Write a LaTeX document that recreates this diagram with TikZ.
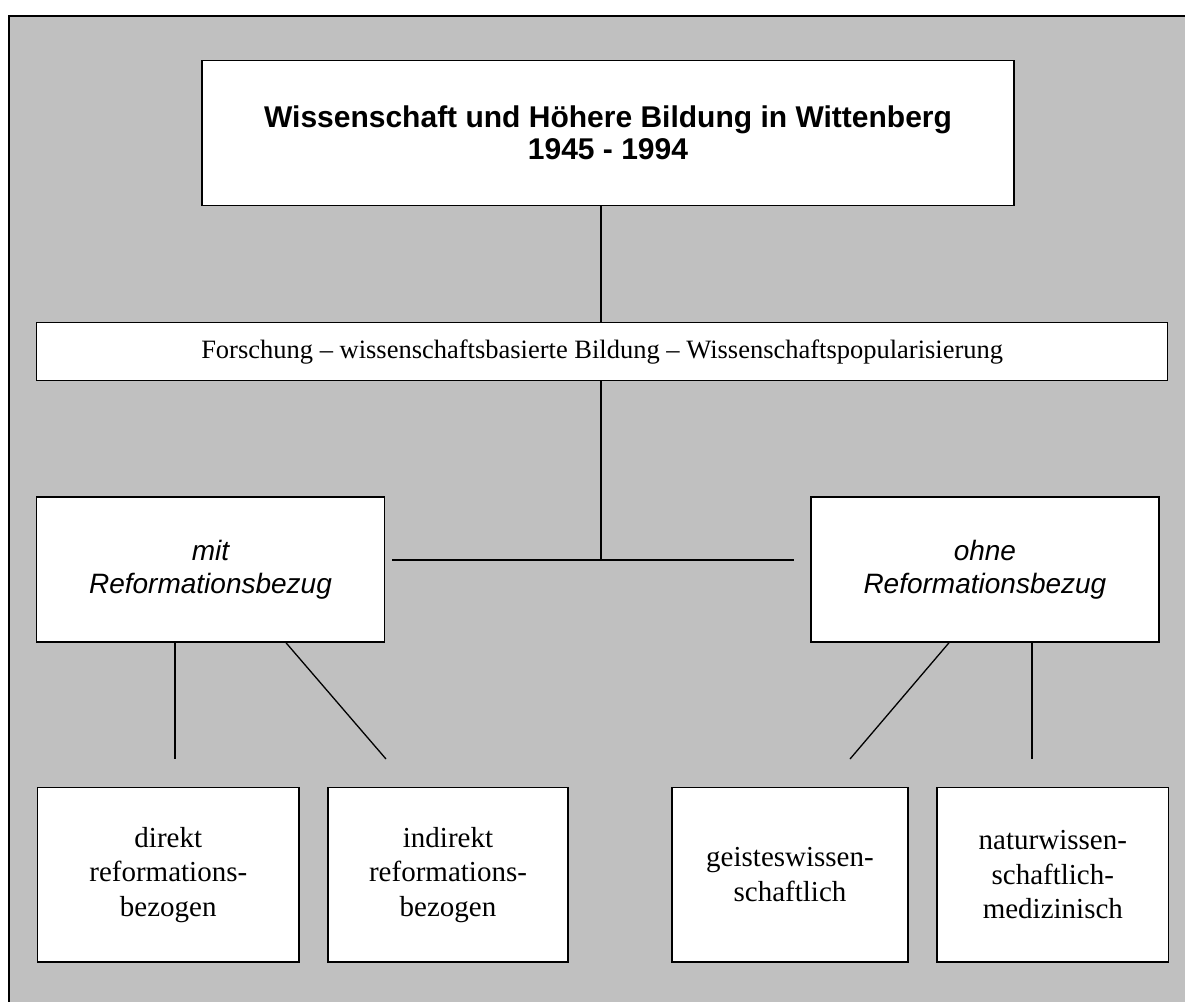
\documentclass[tikz,border=0pt]{standalone}
\usepackage{fontspec}
\setmainfont{Liberation Serif}
\setsansfont{Liberation Sans}
\definecolor{bggray}{RGB}{192,192,192}

\begin{document}
\begin{tikzpicture}[x=1pt,y=-1pt,
		box/.style={draw=black,fill=white,line width=1.5pt,inner sep=0pt,align=center},
		leaf/.style={box,minimum height=174.5,font=\fontsize{29}{34.5}\selectfont},
		branch/.style={box,minimum height=145,font=\sffamily\itshape\fontsize{28}{33}\selectfont},
		conn/.style={black,line width=1.3pt}]
		\clip (0,0) rectangle (1185,1001);
		\draw [fill=bggray,line width=2pt] (8.5,15.5) rectangle (1300,1100);
		% boxes
		\node [box,minimum width=812,minimum height=145,font=\sffamily\bfseries\fontsize{30}{32}\selectfont] (title) at (608,133.2) {Wissenschaft und Höhere Bildung in Wittenberg\\1945 - 1994};
		\node [box,minimum width=1131,minimum height=58,font=\fontsize{26.5}{30}\selectfont] (forschung) at (602.2,351.7) {Forschung -- wissenschaftsbasierte Bildung -- Wissenschaftspopularisierung};
		\node [branch,minimum width=347.6] (mit) at (210.5,569.5) {mit\\Reformationsbezug};
		\node [branch,minimum width=348.3] (ohne) at (984.9,569.5) {ohne\\Reformationsbezug};
		\node [leaf,minimum width=261.3] (direkt) at (168.3,874.7) {direkt\\reformations-\\bezogen};
		\node [leaf,minimum width=240] (indirekt) at (448,874.7) {indirekt\\reformations-\\bezogen};
		\node [leaf,minimum width=236] (geistes) at (790,874.7) {geisteswissen-\\schaftlich};
		\node [leaf,minimum width=231.7] (natur) at (1052.8,874.7) {naturwissen-\\schaftlich-\\medizinisch};
		% connectors
		\coordinate (hub) at (601,560);
		\coordinate (barL) at (392,560);
		\coordinate (barR) at (794,560);
		\draw [conn] (title.south -| hub) -- (forschung.north -| hub);
		\draw [conn] (forschung.south -| hub) -- (hub);
		\draw [conn] (barL) -- (barR);
		\coordinate (mitA) at (175,759);
		\coordinate (mitB) at (386,759);
		\coordinate (mitBs) at (286,642);
		\coordinate (ohneA) at (850,759);
		\coordinate (ohneAs) at (949,642);
		\coordinate (ohneB) at (1032,759);
		\draw [conn] (mit.south -| mitA) -- (mitA);
		\draw [conn] (mit.south -| mitBs) -- (mitB);
		\draw [conn] (ohne.south -| ohneAs) -- (ohneA);
		\draw [conn] (ohne.south -| ohneB) -- (ohneB);
\end{tikzpicture}
\end{document}
